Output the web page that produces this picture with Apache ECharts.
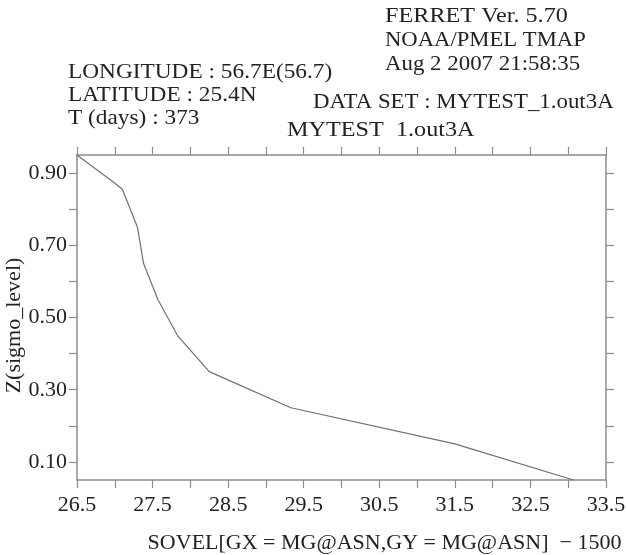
<!DOCTYPE html>
<html>
<head>
<meta charset="utf-8">
<script src="https://cdn.jsdelivr.net/npm/echarts@6/dist/echarts.min.js"></script>
<style>
html,body{margin:0;padding:0;background:#fff;}
#chart{width:627px;height:555px;}
</style>
</head>
<body>
<div id="chart"></div>
<script>
// ---- data ----
var sovel = [26.5, 26.98, 27.1, 27.3, 27.38, 27.57, 27.83, 28.25, 29.33, 31.5, 33.07];
var sigma = [0.95, 0.875, 0.855, 0.75, 0.65, 0.55, 0.45, 0.35, 0.25, 0.15, 0.05];

var xTickValues = [26.5, 27.0, 27.5, 28.0, 28.5, 29.0, 29.5, 30.0, 30.5, 31.0, 31.5, 32.0, 32.5, 33.0, 33.5];
var xLabelValues = [26.5, 27.5, 28.5, 29.5, 30.5, 31.5, 32.5, 33.5];
var yTickValues = [0.1, 0.2, 0.3, 0.4, 0.5, 0.6, 0.7, 0.8, 0.9];
var yLabelValues = [0.1, 0.3, 0.5, 0.7, 0.9];

var headerRight = ['FERRET Ver. 5.70', 'NOAA/PMEL TMAP', 'Aug 2 2007 21:58:35'];
var headerLeft = ['LONGITUDE : 56.7E(56.7)', 'LATITUDE : 25.4N', 'T (days) : 373'];
var datasetLine = 'DATA SET : MYTEST_1.out3A';
var titleLine = 'MYTEST  1.out3A';
var xTitle = 'SOVEL[GX = MG@ASN,GY = MG@ASN]  \u2212 1500';
var yTitle = 'Z(sigmo_level)';

var FONT = "'Liberation Serif','Times New Roman',serif";
var TXT = '#222';
var AX = '#8c8c8c';

var points = sovel.map(function (v, i) { return [v, sigma[i]]; });

function axisCommon(extra) {
  var base = {
    type: 'value',
    nameMoveOverlap: false,
    axisLine: { show: true, lineStyle: { color: AX, width: 1.5 } },
    splitLine: { show: false },
    axisTick: { show: true, inside: false, length: 8, lineStyle: { color: AX, width: 1.2 } }
  };
  for (var k in extra) base[k] = extra[k];
  return base;
}

function txt(t, x, y, sx) {
  return { type: 'text', x: x, y: y, scaleX: sx, originX: 0,
    style: { text: t, font: '22px ' + FONT, fill: TXT, textVerticalAlign: 'middle', verticalAlign: 'middle' } };
}

var gfx = [];
var rightScale = [1.1, 1.03, 1.04];
headerRight.forEach(function (t, i) {
  gfx.push(txt(t, 385, 16 + i * 24, rightScale[i]));
});
headerLeft.forEach(function (t, i) {
  gfx.push(txt(t, 68, 72 + i * 23, 1.06));
});
gfx.push(txt(datasetLine, 313, 102, 1.04));
gfx.push(txt(titleLine, 287, 130, 1.1));

var option = {
  animation: false,
  backgroundColor: '#fff',
  grid: { left: 77, right: 21, top: 155, bottom: 75, containLabel: false, outerBoundsMode: 'none' },
  xAxis: [
    axisCommon({
      min: 26.5, max: 33.5, position: 'bottom',
      name: xTitle, nameLocation: 'middle', nameGap: 52,
      nameTextStyle: { fontFamily: FONT, fontSize: 22, color: TXT, padding: [0, 0, 0, 86] },
      axisTick: { show: true, inside: false, length: 8, lineStyle: { color: AX, width: 1.2 }, customValues: xTickValues },
      axisLabel: { show: true, margin: 14, fontFamily: FONT, fontSize: 22, color: TXT, customValues: xLabelValues,
        formatter: function (v) { return v.toFixed(1); } }
    }),
    axisCommon({
      min: 26.5, max: 33.5, position: 'top',
      axisTick: { show: true, inside: false, length: 8, lineStyle: { color: AX, width: 1.2 }, customValues: xTickValues },
      axisLabel: { show: false }
    })
  ],
  yAxis: [
    axisCommon({
      min: 0.05, max: 0.95, position: 'left',
      name: yTitle, nameLocation: 'middle', nameGap: 52, nameRotate: 90,
      nameTextStyle: { fontFamily: FONT, fontSize: 22, color: TXT, padding: [0, 16, 0, 0] },
      axisTick: { show: true, inside: false, length: 8, lineStyle: { color: AX, width: 1.2 }, customValues: yTickValues },
      axisLabel: { show: true, margin: 10, fontFamily: FONT, fontSize: 22, color: TXT, customValues: yLabelValues,
        formatter: function (v) { return v.toFixed(2); } }
    }),
    axisCommon({
      min: 0.05, max: 0.95, position: 'right',
      axisTick: { show: true, inside: false, length: 8, lineStyle: { color: AX, width: 1.2 }, customValues: yTickValues },
      axisLabel: { show: false }
    })
  ],
  series: [{
    type: 'line',
    xAxisIndex: 0, yAxisIndex: 0,
    data: points,
    showSymbol: false,
    smooth: false,
    lineStyle: { color: '#707070', width: 1.2 },
    itemStyle: { color: '#707070' }
  }],
  graphic: gfx
};

var chart = echarts.init(document.getElementById('chart'), null, { renderer: 'canvas' });
chart.setOption(option);
</script>
</body>
</html>
